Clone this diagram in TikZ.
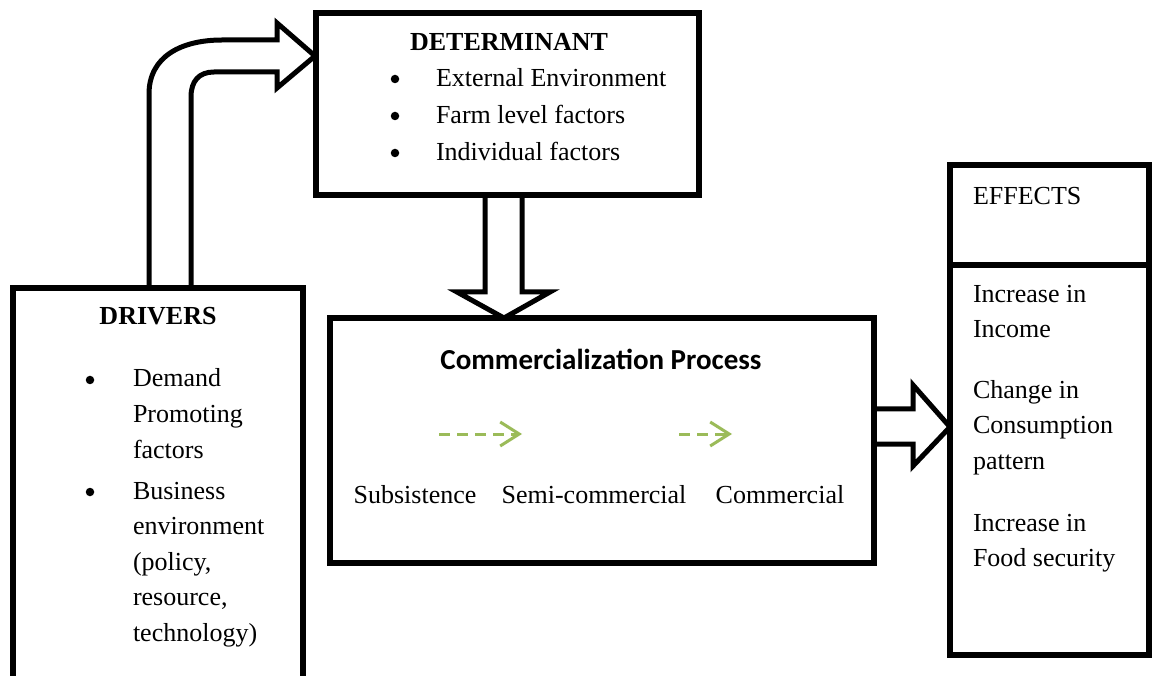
\documentclass[tikz,border=0pt]{standalone}
\usepackage{fontspec}
\setmainfont{Liberation Serif}
\newfontfamily\calibfont{Carlito}
\usetikzlibrary{arrows.meta,calc}
\definecolor{arrgreen}{RGB}{155,187,89}
\begin{document}
\begin{tikzpicture}[x=1pt,y=-1pt,
  frame/.style={draw=black,line width=6pt,fill=white,inner sep=0pt,outer sep=0pt,rectangle,line join=miter},
  blockarrow/.style={draw=black,line width=5pt,fill=white,line join=miter,miter limit=10},
  txt/.style={inner sep=0pt,outer sep=0pt,anchor=base west,font=\fontsize{26}{30}\selectfont},
  ctxt/.style={inner sep=0pt,outer sep=0pt,anchor=base,font=\fontsize{26}{30}\selectfont},
  bhead/.style={inner sep=0pt,outer sep=0pt,anchor=base,font=\fontsize{26}{30}\selectfont\bfseries},
  dot/.style={circle,fill=black,inner sep=0pt,minimum size=8.5pt},
  stage/.style={draw=arrgreen,line width=3pt,dash pattern=on 11pt off 7pt,-{Straight Barb[length=19pt,width=24pt,line width=3pt]}}
]
\useasboundingbox (0,0) rectangle (1152,676);

% block arrows (drawn first, boxes cover their ends)
\draw[blockarrow] (149,290) -- (149,94) .. controls (149,56) and (182,40) .. (222,40)
  -- (277,40) -- (277,23) -- (315,56) -- (277,88) -- (277,72) -- (214,72)
  .. controls (199,72) and (191,81) .. (191,97) -- (191,290);
\draw[blockarrow] (485,190) -- (485,292) -- (457,292) -- (504,318) -- (550,292) -- (522,292) -- (522,190);
\draw[blockarrow] (868,409) -- (913,409) -- (913,385) -- (950,427) -- (913,466) -- (913,444) -- (868,444);

% boxes
\node[frame,minimum width=383pt,minimum height=182pt,anchor=north west] (det) at (316,13) {};
\node[frame,minimum width=544pt,minimum height=245pt,anchor=north west] (com) at (330,318) {};
\node[frame,minimum width=199pt,minimum height=490pt,anchor=north west] (eff) at (950,165) {};
\coordinate (effdivL) at (950,265);
\coordinate (effdivR) at (1149,265);
\draw[line width=6pt] (effdivL) -- (effdivR);
\node[inner sep=0pt,outer sep=0pt,minimum width=290pt,minimum height=390pt,anchor=north west] (drv) at (13,288) {};
\draw[line width=6pt,line join=miter] (drv.south west) -- (drv.north west) -- (drv.north east) -- (drv.south east);

% DETERMINANT text
\node[bhead] (detT) at (509,51) {DETERMINANT};
\node[dot] (detb1) at (395,79) {};
\node[dot] (detb2) at (395,116) {};
\node[dot] (detb3) at (395,153) {};
\node[txt] (det1) at (436,87) {External Environment};
\node[txt] (det2) at (436,124) {Farm level factors};
\node[txt] (det3) at (436,161) {Individual factors};

% DRIVERS text
\node[bhead] (drvT) at (158,325) {DRIVERS};
\node[dot] (drvb1) at (90,380) {};
\node[dot] (drvb2) at (90,492) {};
\node[txt] (drv1) at (133,387) {Demand};
\node[txt] (drv2) at (133,422.5) {Promoting};
\node[txt] (drv3) at (133,458) {factors};
\node[txt] (drv4) at (133,499) {Business};
\node[txt] (drv5) at (133,534.5) {environment};
\node[txt] (drv6) at (133,570) {(policy,};
\node[txt] (drv7) at (133,605.5) {resource,};
\node[txt] (drv8) at (133,641) {technology)};

% Commercialization
\node[inner sep=0pt,anchor=base,font=\fontsize{29}{34}\selectfont\calibfont\bfseries] (comT) at (601,370) {Commercialization Process};
\coordinate (a1s) at (439,434);
\coordinate (a1e) at (522,434);
\coordinate (a2s) at (679,434);
\coordinate (a2e) at (732,434);
\draw[stage] (a1s) -- (a1e);
\draw[stage] (a2s) -- (a2e);
\node[ctxt] (sub) at (415,503) {Subsistence};
\node[ctxt] (semi) at (594,503) {Semi-commercial};
\node[ctxt] (comm) at (780,503) {Commercial};

% EFFECTS
\node[txt] (effT) at (973,205) {EFFECTS};
\node[txt] (e1) at (973,303) {Increase in};
\node[txt] (e2) at (973,338) {Income};
\node[txt] (e3) at (973,399) {Change in};
\node[txt] (e4) at (973,434) {Consumption};
\node[txt] (e5) at (973,469) {pattern};
\node[txt] (e6) at (973,531) {Increase in};
\node[txt] (e7) at (973,566) {Food security};
\end{tikzpicture}
\end{document}
